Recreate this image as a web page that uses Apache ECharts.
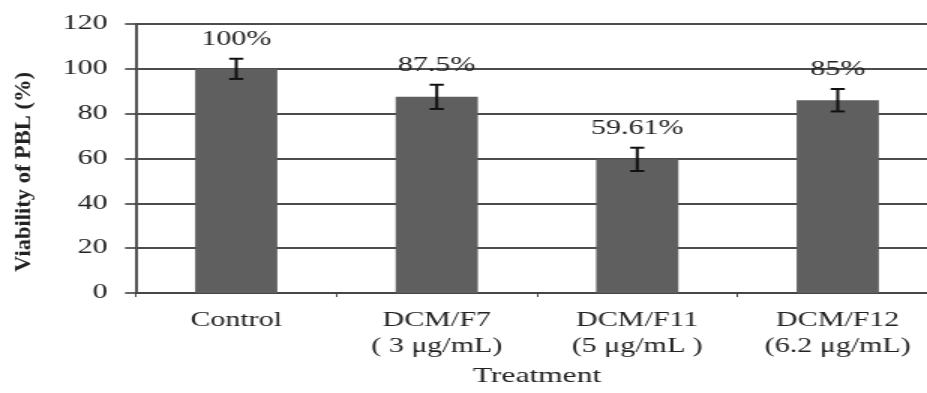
<!DOCTYPE html>
<html><head><meta charset="utf-8">
<script src="https://cdn.jsdelivr.net/npm/echarts@6/dist/echarts.min.js"></script>
<style>
html,body{margin:0;padding:0;background:#fff;overflow:hidden;width:927px;height:393px}
#c{width:640px;height:393px;transform:scaleX(1.5);transform-origin:0 0}
</style>
</head><body><div id="c"></div>
<script>
const categories = ['Control', 'DCM/F7\n( 3 \u03bcg/mL)', 'DCM/F11\n(5 \u03bcg/mL )', 'DCM/F12\n(6.2 \u03bcg/mL)'];
const values = [100, 87.5, 59.61, 86];
const errors = [4.5, 5.4, 5.2, 5];
const valueLabels = ['100%', '87.5%', '59.61%', '85%'];
const yTicks = [0, 20, 40, 60, 80, 100, 120];
const yTitle = 'Viability of PBL (%)';
const xTitle = 'Treatment';

const FONT = '"Liberation Serif", "DejaVu Serif", serif';
const chart = echarts.init(document.getElementById('c'));
chart.setOption({
  animation: false,
  backgroundColor: '#fff',
  grid: { left: 90.67, top: 24, bottom: 100, right: 14.67 },
  graphic: [{
    type: 'text', x: 16, y: 172, rotation: Math.PI / 2, scaleX: 1.5, scaleY: 1,
    style: { text: yTitle, font: 'bold 15px ' + FONT, fill: '#222', align: 'center', verticalAlign: 'middle' }
  }],
  xAxis: {
    type: 'category', data: categories,
    name: xTitle, nameLocation: 'middle', nameGap: 73,
    nameTextStyle: { fontFamily: FONT, fontSize: 21, color: '#222' },
    axisLine: { lineStyle: { color: '#444', width: 1.5 } },
    axisTick: { show: true, length: 4, lineStyle: { color: '#444' } },
    axisLabel: { fontFamily: FONT, fontSize: 20, color: '#222', margin: 15, lineHeight: 26 }
  },
  yAxis: {
    type: 'value', min: 0, max: 120, interval: 20,
    axisLine: { show: true, lineStyle: { color: '#555', width: 2 } },
    axisTick: { show: true, length: 7.3, inside: false, lineStyle: { color: '#333', width: 1.5 } },
    axisLabel: { fontFamily: FONT, fontSize: 20, color: '#222', margin: 19,
      formatter: v => yTicks.includes(v) ? String(v) : '' },
    splitLine: { show: true, lineStyle: { color: '#111', width: 1.5 } }
  },
  series: [
    {
      type: 'bar', data: values, barWidth: '41%',
      itemStyle: { color: '#5f5f5f' }
    },
    {
      type: 'custom',
      data: values.map((v, i) => [i, v, errors[i]]),
      z: 10,
      renderItem: function (params, api) {
        const i = api.value(0), v = api.value(1), e = api.value(2);
        const hi = api.coord([i, v + e]);
        const lo = api.coord([i, v - e]);
        const cap = 4.7;
        const st = { stroke: '#111', lineWidth: 2 };
        return {
          type: 'group',
          children: [
            { type: 'line', shape: { x1: hi[0], y1: hi[1], x2: lo[0], y2: lo[1] }, style: st },
            { type: 'line', shape: { x1: hi[0] - cap, y1: hi[1], x2: hi[0] + cap, y2: hi[1] }, style: st },
            { type: 'line', shape: { x1: lo[0] - cap, y1: lo[1], x2: lo[0] + cap, y2: lo[1] }, style: st },
            { type: 'text', style: { text: valueLabels[params.dataIndex], x: hi[0], y: hi[1] - 19,
                align: 'center', verticalAlign: 'middle', font: '20px ' + FONT, fill: '#222' } }
          ]
        };
      }
    }
  ]
});
</script></body></html>
